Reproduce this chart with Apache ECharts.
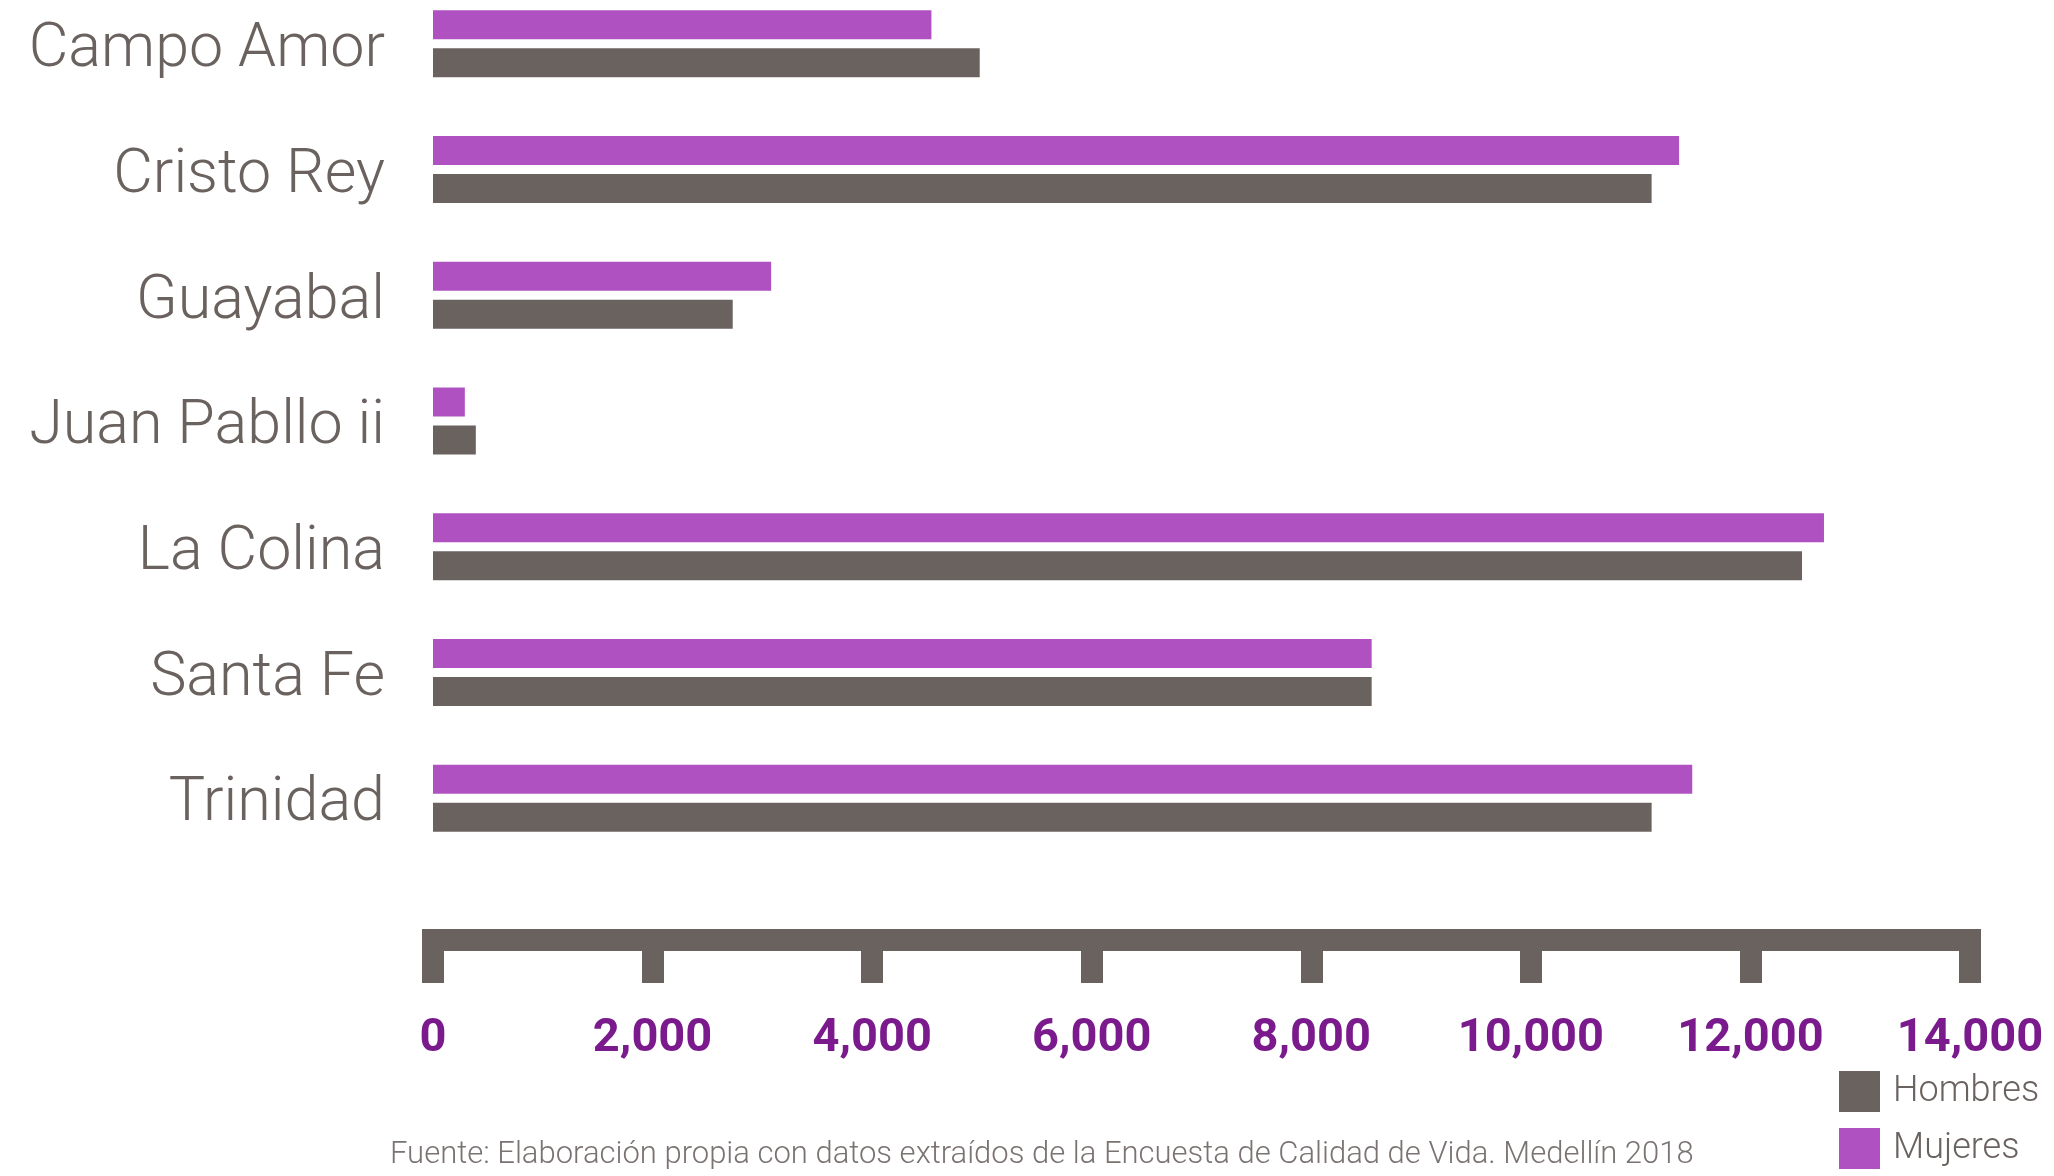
<!DOCTYPE html>
<html>
<head>
<meta charset="utf-8">
<script src="https://cdn.jsdelivr.net/npm/echarts@6/dist/echarts.min.js"></script>
<style>
html,body{margin:0;padding:0;background:#fff;overflow:hidden;}
#chart{width:2054px;height:1196px;margin-top:-20px;}
</style>
</head>
<body>
<div id="chart"></div>
<script>
const categories = ['Campo Amor','Cristo Rey','Guayabal','Juan Pabllo ii','La Colina','Santa Fe','Trinidad'];
const mujeres = [4540, 11350, 3080, 290, 12670, 8550, 11470];
const hombres = [4980, 11100, 2730, 390, 12470, 8550, 11100];
const seriesNames = ['Hombres','Mujeres'];
const sourceText = 'Fuente: Elaboración propia con datos extraídos de la Encuesta de Calidad de Vida. Medellín 2018';

const GRAY = '#6a625f';
const PURPLE = '#b051c2';
const TICK_PURPLE = '#7a1a8c';
const FONT = 'Roboto, "Liberation Sans", sans-serif';

const chart = echarts.init(document.getElementById('chart'), null, {renderer:'canvas'});
chart.setOption({
  animation: false,
  backgroundColor: '#ffffff',
  grid: { left: 433, right: 84, top: 1, height: 880, containLabel: false },
  xAxis: {
    type: 'value', min: 0, max: 14000, interval: 2000,
    position: 'bottom', offset: 79,
    splitLine: { show: false },
    axisLine: { show: true, lineStyle: { color: GRAY, width: 22, cap: 'square' } },
    axisTick: { show: true, length: 43, lineStyle: { color: GRAY, width: 22 } },
    axisLabel: {
      margin: 76, color: TICK_PURPLE, fontSize: 47, fontWeight: 'bold', fontFamily: FONT,
      formatter: v => v.toLocaleString('en-US')
    }
  },
  yAxis: {
    type: 'category', data: categories, inverse: true,
    axisLine: { show: false }, axisTick: { show: false }, splitLine: { show: false },
    axisLabel: { margin: 48, color: GRAY, fontSize: 61, fontWeight: 300, fontFamily: FONT,
      verticalAlign: 'top', lineHeight: 14 }
  },
  legend: {
    data: seriesNames, orient: 'vertical', left: 1839, top: 1091, padding: 0,
    itemWidth: 41, itemHeight: 41, itemGap: 16, icon: 'rect',
    textStyle: { color: GRAY, fontSize: 36, fontWeight: 300, fontFamily: FONT, padding: [6,0,0,8] }
  },
  graphic: [{
    type: 'text', left: 390, top: 1160,
    style: { text: sourceText, fill: '#7a7371', fontSize: 31, fontWeight: 300, fontFamily: FONT }
  }],
  series: [
    { name: 'Mujeres', type: 'bar', data: mujeres, barWidth: 29, barGap: '31%', barCategoryGap: '47%',
      itemStyle: { color: PURPLE }, silent: true },
    { name: 'Hombres', type: 'bar', data: hombres, barWidth: 29, barGap: '31%', barCategoryGap: '47%',
      itemStyle: { color: GRAY }, silent: true }
  ]
});
</script>
</body>
</html>
